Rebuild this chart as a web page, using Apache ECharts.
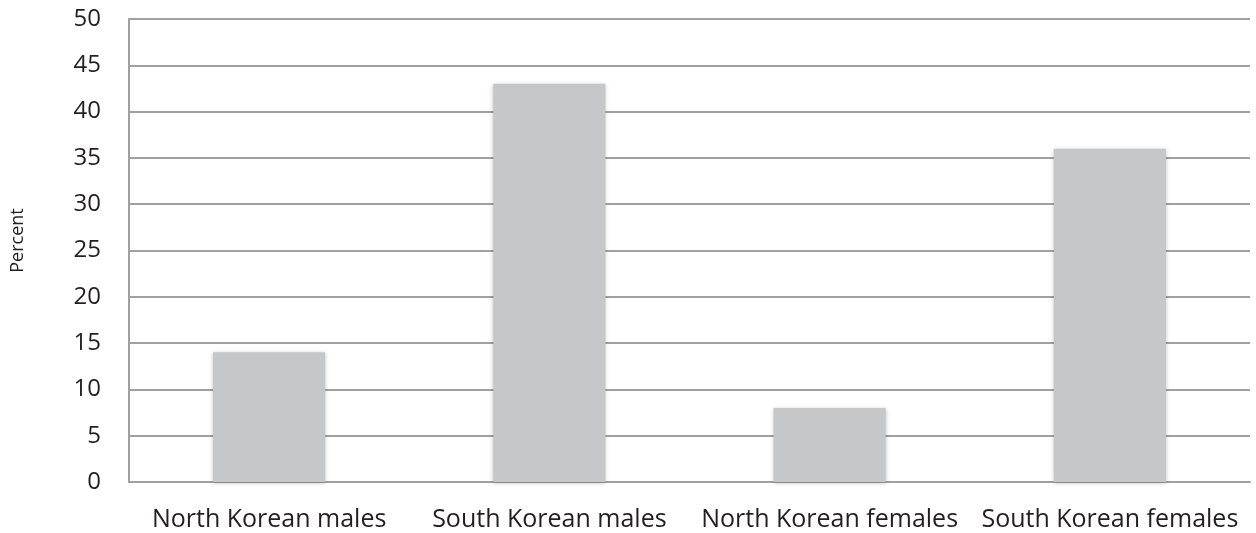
<!DOCTYPE html>
<html>
<head>
<meta charset="utf-8">
<script src="https://cdn.jsdelivr.net/npm/echarts@6/dist/echarts.min.js"></script>
<style>
  html, body { margin: 0; padding: 0; background: #fff; }
  #main { width: 1256px; height: 533px; }
</style>
</head>
<body>
<div id="main"></div>
<script>
var categories = ['North Korean males', 'South Korean males', 'North Korean females', 'South Korean females'];
var percentValues = [14, 43, 8, 36];
var axisName = 'Percent';

var myChart = echarts.init(document.getElementById('main'));
var option = {
    animation: false,
    grid: { left: 129, right: 6, top: 19, bottom: 51 },
    xAxis: {
        type: 'category',
        data: categories,
        axisLine: { lineStyle: { color: '#a0a0a0', width: 2 } },
        axisTick: { show: false },
        axisLabel: { interval: 0, color: '#231f20', fontSize: 25, fontFamily: 'Open Sans', margin: 25 }
    },
    yAxis: {
        type: 'value',
        min: 0, max: 50, interval: 5,
        name: axisName,
        nameLocation: 'middle',
        nameGap: 102,
        nameTextStyle: { color: '#231f20', fontSize: 18, fontFamily: 'Open Sans', padding: [0, 0, 0, 20] },
        axisLine: { show: true, lineStyle: { color: '#a0a0a0', width: 2 } },
        axisTick: { show: false },
        axisLabel: { color: '#231f20', fontSize: 24, fontFamily: 'Open Sans', margin: 28 },
        splitLine: { lineStyle: { color: '#a0a0a0', width: 2 } }
    },
    series: [{
        type: 'bar',
        data: percentValues,
        barWidth: '40%',
        itemStyle: {
            color: '#c6c7c9',
            shadowColor: 'rgba(0,0,0,0.25)',
            shadowBlur: 4,
            shadowOffsetY: 1
        }
    }]
};
myChart.setOption(option);
</script>
</body>
</html>
